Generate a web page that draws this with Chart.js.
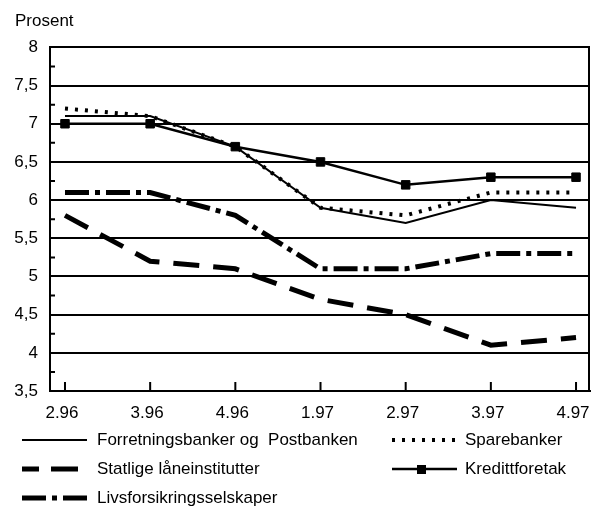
<!DOCTYPE html>
<html>
<head>
<meta charset="utf-8">
<script src="https://cdn.jsdelivr.net/npm/chart.js@4.4.1/dist/chart.umd.min.js"></script>
<style>
  body { margin: 0; background: #fff; }
  #wrap { position: relative; width: 591px; height: 509px; font-family: "Liberation Sans", Arial, sans-serif; }
  .item { position: absolute; height: 20px; line-height: 20px; font-size: 17px; color: #000; white-space: pre; }
  .item svg { position: absolute; left: 0; top: 4px; }
  .item span { position: absolute; top: 0; }
</style>
</head>
<body>
<div id="wrap">
  <canvas id="chart" width="591" height="509"></canvas>
</div>
<script>
const categories = ['2.96', '3.96', '4.96', '1.97', '2.97', '3.97', '4.97'];
const forretning = [7.1, 7.1, 6.7, 5.9, 5.7, 6.0, 5.9];
const sparebanker = [7.2, 7.1, 6.7, 5.9, 5.8, 6.1, 6.1];
const statlige = [5.8, 5.2, 5.1, 4.7, 4.5, 4.1, 4.2];
const kreditt = [7.0, 7.0, 6.7, 6.5, 6.2, 6.3, 6.3];
const livs = [6.1, 6.1, 5.8, 5.1, 5.1, 5.3, 5.3];
const seriesNames = ['Forretningsbanker og  Postbanken', 'Sparebanker', 'Statlige låneinstitutter', 'Kredittforetak', 'Livsforsikringsselskaper'];
const yMin = 3.5, yMax = 8, yStep = 0.5;

const pts = arr => arr.map((v, i) => ({ x: i, y: v }));

const datasets = [
    { label: seriesNames[0], data: pts(forretning), borderWidth: 2, borderDash: [] },
    { label: seriesNames[1], data: pts(sparebanker), borderWidth: 4, borderDash: [3, 7] },
    { label: seriesNames[2], data: pts(statlige), borderWidth: 5, borderDash: [26, 14] },
    { label: seriesNames[3], data: pts(kreditt), borderWidth: 2.5, borderDash: [], pointRadius: 6, pointStyle: 'rect' },
    { label: seriesNames[4], data: pts(livs), borderWidth: 5, borderDash: [24, 6, 5, 6] }
].map(d => Object.assign({
    borderColor: '#000',
    backgroundColor: '#000',
    pointBorderWidth: 1,
    pointRadius: 0,
    tension: 0,
    fill: false,
    clip: false
}, d));

// frame on the right + short inward ticks on both axes
const innerTicks = {
    id: 'innerTicks',
    beforeDatasetsDraw(chart) {
        const { ctx, chartArea: a, scales: { x, y } } = chart;
        ctx.save();
        ctx.strokeStyle = '#000';
        ctx.lineWidth = 2;
        ctx.beginPath();
        ctx.moveTo(a.right - 1, a.top);
        ctx.lineTo(a.right - 1, a.bottom);
        categories.forEach((c, i) => {
            const px = x.getPixelForValue(i);
            ctx.moveTo(px, a.bottom);
            ctx.lineTo(px, a.bottom - 9);
        });
        for (let v = yMin + yStep / 2; v < yMax; v += yStep) {
            const py = y.getPixelForValue(v);
            ctx.moveTo(a.left, py);
            ctx.lineTo(a.left + 5, py);
        }
        ctx.stroke();
        ctx.restore();
    }
};

const font = { family: '"Liberation Sans", Arial, sans-serif', size: 17 };

new Chart(document.getElementById('chart'), {
    type: 'line',
    data: { datasets },
    plugins: [innerTicks],
    options: {
        responsive: false,
        animation: false,
        layout: { autoPadding: false, padding: { left: 15, right: 1, top: 4, bottom: 0 } },
        plugins: {
            legend: { display: false },
            tooltip: { enabled: false },
            title: {
                display: true,
                text: 'Prosent',
                align: 'start',
                color: '#000',
                font: Object.assign({ weight: 'normal' }, font),
                padding: { top: 7, bottom: 16 }
            }
        },
        scales: {
            x: {
                type: 'linear',
                min: -0.176,
                max: 6.164,
                afterBuildTicks: s => { s.ticks = categories.map((c, i) => ({ value: i })); },
                afterFit: s => { s.height = 118; s.paddingLeft = 0; s.paddingRight = 0; },
                grid: { display: false },
                border: { display: true, color: '#000', width: 2 },
                ticks: {
                    color: '#000',
                    font,
                    padding: 4,
                    labelOffset: -3,
                    maxRotation: 0,
                    callback: v => categories[v]
                }
            },
            y: {
                min: yMin,
                max: yMax,
                afterFit: s => { s.width = 35; },
                grid: { color: '#000', lineWidth: 2, drawTicks: false },
                border: { display: true, color: '#000', width: 2 },
                ticks: {
                    stepSize: yStep,
                    color: '#000',
                    font,
                    padding: 12,
                    callback: v => String(v).replace('.', ',')
                }
            }
        }
    }
});

// legend below the plot, two columns
const legendPos = [[22, 440], [392, 440], [22, 469], [392, 469], [22, 498]];
const wrap = document.getElementById('wrap');
datasets.forEach((d, i) => {
    const [lx, ly] = legendPos[i];
    const w = i === 2 ? 56 : 65;
    const item = document.createElement('div');
    item.className = 'item';
    item.style.left = lx + 'px';
    item.style.top = (ly - 10) + 'px';
    let svg = '<svg width="70" height="12"><line x1="0" y1="6" x2="' + w + '" y2="6" stroke="#000" stroke-width="' + d.borderWidth + '"' +
        (d.borderDash.length ? ' stroke-dasharray="' + (i === 2 ? '17,12,27' : d.borderDash.join(',')) + '"' : '') + '/>';
    if (d.pointRadius) svg += '<rect x="' + (29 - 4) + '" y="2" width="9" height="9" fill="#000"/>';
    svg += '</svg>';
    item.innerHTML = svg + '<span style="left:' + (i % 2 ? 73 : 75) + 'px">' + d.label + '</span>';
    wrap.appendChild(item);
});
</script>
</body>
</html>
